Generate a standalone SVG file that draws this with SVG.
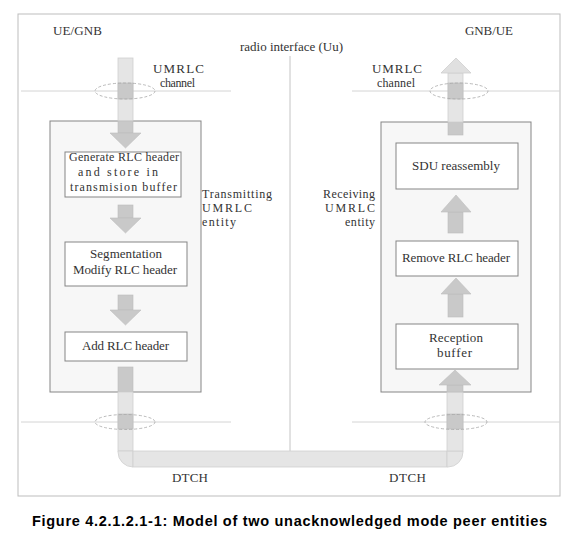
<svg xmlns="http://www.w3.org/2000/svg" width="581" height="550" viewBox="0 0 581 550">
<style>
text{font-family:"Liberation Serif","Times New Roman",serif;font-size:13px;fill:#333}
.sm{font-size:12px}
.cap{font-family:"Liberation Sans",Arial,sans-serif;font-weight:bold;font-size:14.5px;fill:#000}
.frame{fill:#fff;stroke:#bdbdbd;stroke-width:1}
.ent{fill:#f7f7f7;stroke:#858585;stroke-width:1}
.box{fill:#fff;stroke:#858585;stroke-width:1}
.hl{stroke:#d4d4d4;stroke-width:1;fill:none}
.ell{fill:none;stroke:#a8a8a8;stroke-width:0.8;stroke-dasharray:3 2}
.lt{fill:#e5e5e5;stroke:#cfcfcf;stroke-width:0.8}
.dk{fill:#c9c9c9;stroke:#bdbdbd;stroke-width:0.6}
.end{text-anchor:end}
</style>
<rect class="frame" x="18" y="14" width="542" height="482"/>
<g id="labels">
<text x="53" y="35" textLength="49">UE/GNB</text>
<text x="465" y="35" textLength="48">GNB/UE</text>
<text x="240" y="51" textLength="103">radio interface (Uu)</text>
<text x="153" y="73" textLength="51">UMRLC</text>
<text class="sm" x="160" y="87" textLength="35">channel</text>
<text x="372" y="73" textLength="50">UMRLC</text>
<text class="sm" x="377" y="87" textLength="38">channel</text>
<text x="172" y="482" textLength="36">DTCH</text>
<text x="389" y="482" textLength="37">DTCH</text>
</g>
<line class="hl" x1="21" y1="91" x2="231" y2="91"/>
<line class="hl" x1="352" y1="91" x2="560" y2="91"/>
<line class="hl" x1="21" y1="422" x2="231" y2="422"/>
<line class="hl" x1="352" y1="422" x2="560" y2="422"/>
<line x1="290" y1="56" x2="290" y2="451" stroke="#c4c4c4" stroke-width="1"/>
<g id="tx-entity">
<rect class="ent" x="50" y="121" width="151" height="271"/>
<text class="sm" x="202" y="198" textLength="70">Transmitting</text>
<text class="sm" x="202" y="212" textLength="50">UMRLC</text>
<text class="sm" x="202" y="226" textLength="34">entity</text>
</g>
<g id="rx-entity">
<rect class="ent" x="381" y="122" width="150" height="270"/>
<text class="sm end" x="375" y="198" textLength="52">Receiving</text>
<text class="sm end" x="375" y="212" textLength="50">UMRLC</text>
<text class="sm end" x="375" y="226" textLength="30">entity</text>
</g>
<g id="generate">
<rect class="box" x="65" y="152" width="116" height="45"/>
<text class="sm" x="69" y="161" textLength="110">Generate RLC header</text>
<text class="sm" x="78" y="176" textLength="80">and store in</text>
<text class="sm" x="70" y="191" textLength="107">transmision buffer</text>
</g>
<g id="segmentation">
<rect class="box" x="65" y="242" width="122" height="44"/>
<text x="90" y="258" textLength="72">Segmentation</text>
<text x="73" y="274" textLength="104">Modify RLC header</text>
</g>
<g id="add-header">
<rect class="box" x="65" y="332" width="122" height="29"/>
<text x="82" y="350" textLength="87">Add RLC header</text>
</g>
<g id="sdu-reassembly">
<rect class="box" x="396" y="143" width="122" height="46"/>
<text x="412" y="170" textLength="88">SDU reassembly</text>
</g>
<g id="remove-header">
<rect class="box" x="396" y="241" width="122" height="35"/>
<text x="402" y="262" textLength="108">Remove RLC header</text>
</g>
<g id="reception-buffer">
<rect class="box" x="396" y="324" width="122" height="45"/>
<text x="429" y="342" textLength="54">Reception</text>
<text x="437" y="357" textLength="35">buffer</text>
</g>
<g id="connectors">
<rect class="lt" x="118" y="58" width="15" height="63"/>
<rect class="dk" x="118" y="83" width="15" height="16"/>
<rect class="dk" x="118" y="121" width="15" height="12"/>
<polygon class="dk" points="110,133 141,133 125.5,148"/>
<rect class="dk" x="118" y="205" width="15" height="13"/>
<polygon class="dk" points="110,218 141,218 125.5,233"/>
<rect class="dk" x="118" y="295" width="15" height="15"/>
<polygon class="dk" points="110,310 141,310 125.5,325"/>
<rect class="dk" x="118" y="367" width="15" height="25"/>
<rect class="lt" x="118" y="392" width="15" height="59"/>
<rect class="dk" x="118" y="414" width="15" height="15"/>
<path class="lt" d="M118,451 H133 V467 A15 15 0 0 1 118 452 Z"/>
<rect class="lt" x="133" y="451" width="314" height="16"/>
<path class="lt" d="M447,451 H463 V452 A15 15 0 0 1 448 467 H447 Z"/>
<rect class="lt" x="447" y="392" width="16" height="59"/>
<rect class="dk" x="447" y="414" width="16" height="15"/>
<rect class="dk" x="447" y="385" width="16" height="7"/>
<polygon class="dk" points="439,385 471,385 455,370"/>
<rect class="dk" x="448" y="294" width="15" height="23"/>
<polygon class="dk" points="441,294 471,294 456,278"/>
<rect class="dk" x="448" y="212" width="15" height="21"/>
<polygon class="dk" points="441,212 471,212 456,195"/>
<rect class="dk" x="448" y="122" width="15" height="13"/>
<rect class="lt" x="448" y="73" width="15" height="49"/>
<rect class="dk" x="448" y="83" width="15" height="16"/>
<polygon points="441,73 471,73 456,58" fill="#e0e0e0" stroke="#cfcfcf" stroke-width="0.8"/>
</g>
<ellipse class="ell" cx="125" cy="91" rx="30" ry="8"/>
<ellipse class="ell" cx="459" cy="91" rx="29" ry="8"/>
<ellipse class="ell" cx="125" cy="422" rx="30" ry="7.5"/>
<ellipse class="ell" cx="456" cy="422" rx="31" ry="7.5"/>
<text class="cap" x="32" y="526" textLength="515">Figure 4.2.1.2.1-1: Model of two unacknowledged mode peer entities</text>
</svg>
